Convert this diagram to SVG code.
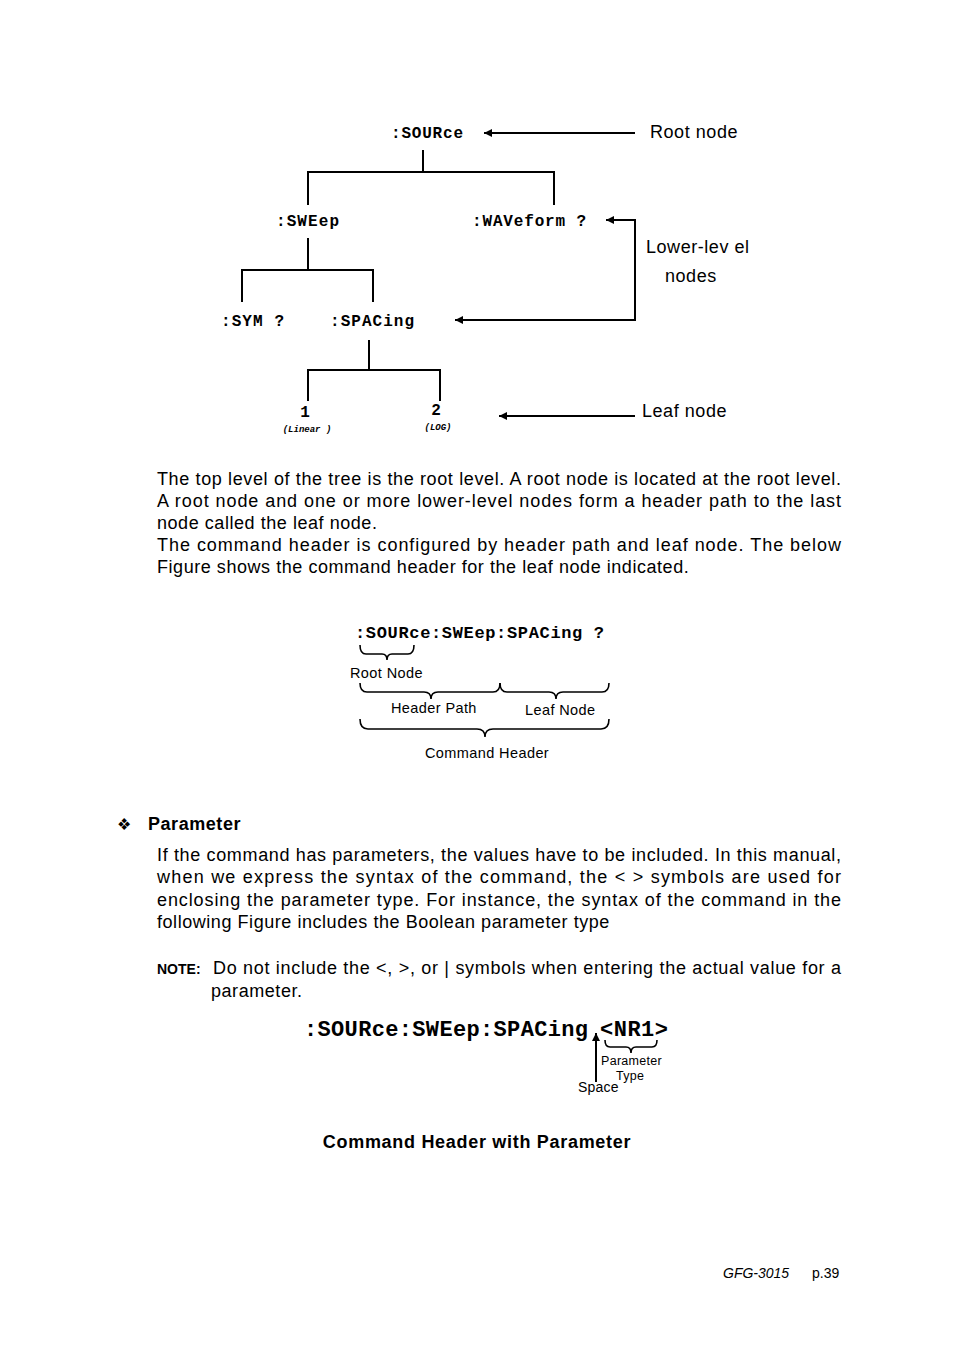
<svg xmlns="http://www.w3.org/2000/svg" width="954" height="1351" viewBox="0 0 954 1351">
<style>
.m{font-family:"Liberation Mono","Courier New",monospace;font-weight:bold;fill:#000}
.s{font-family:"Liberation Sans",Arial,sans-serif;fill:#000}
.p{letter-spacing:0.55px}
.q{letter-spacing:0.4px}
.ln{stroke:#000;stroke-width:2;fill:none}
.br{stroke:#000;stroke-width:1.6;fill:none}
</style>
<defs>
<marker id="ah" viewBox="0 0 10 10" refX="10" refY="5" markerWidth="9" markerHeight="8" markerUnits="userSpaceOnUse" orient="auto-start-reverse">
<path d="M0,0 L10,5 L0,10 Z" fill="#000"/>
</marker>
</defs>
<rect width="954" height="1351" fill="#fff"/>

<g id="connectors">
<path class="ln" d="M423,150 V172 M308,205 V172 H554 V205"/>
<path class="ln" d="M308,238 V270 M242,302 V270 H373 V302"/>
<path class="ln" d="M369,340 V370 M308,401 V370 H440 V401"/>
<line class="ln" x1="635" y1="133" x2="484" y2="133" marker-end="url(#ah)"/>
<polyline class="ln" points="606,220 635,220 635,320 455,320" marker-start="url(#ah)" marker-end="url(#ah)"/>
<line class="ln" x1="635" y1="416" x2="499" y2="416" marker-end="url(#ah)"/>
<line class="ln" x1="596" y1="1082" x2="596" y2="1033" marker-end="url(#ah)"/>
</g>

<g id="node-source"><text class="m" x="391" y="138" font-size="16" textLength="72">:SOURce</text></g>
<g id="label-root"><text class="s p" x="650" y="138" font-size="18">Root node</text></g>
<g id="node-sweep"><text class="m" x="276" y="226" font-size="16" textLength="63">:SWEep</text></g>
<g id="node-waveform"><text class="m" x="472" y="226" font-size="16" textLength="114">:WAVeform ?</text></g>
<g id="label-lower"><text class="s p" x="646" y="253" font-size="18">Lower-lev el</text><text class="s p" x="665" y="282" font-size="18">nodes</text></g>
<g id="node-sym"><text class="m" x="221" y="326" font-size="16" textLength="63">:SYM ?</text></g>
<g id="node-spacing"><text class="m" x="330" y="326" font-size="16" textLength="84">:SPACing</text></g>
<g id="node-1"><text class="m" x="305" y="417" font-size="16" text-anchor="middle">1</text><text class="m" x="307" y="432" font-size="9" font-style="italic" text-anchor="middle">(Linear )</text></g>
<g id="node-2"><text class="m" x="436" y="415" font-size="16" text-anchor="middle">2</text><text class="m" x="438" y="430" font-size="9" font-style="italic" text-anchor="middle">(LOG)</text></g>
<g id="label-leaf"><text class="s p" x="642" y="417" font-size="18">Leaf  node</text></g>

<g id="para1" class="s" font-size="18">
<text x="157" y="485" textLength="684" lengthAdjust="spacing">The top level of the tree is the root level. A root node is located at the root level.</text>
<text x="157" y="507" textLength="684" lengthAdjust="spacing">A root node and one or more lower-level nodes form a header path to the last</text>
<text class="p" x="157" y="529">node called the leaf node.</text>
<text x="157" y="551" textLength="684" lengthAdjust="spacing">The command header is configured by header path and leaf node. The below</text>
<text class="p" x="157" y="573">Figure shows the command header for the leaf node indicated.</text>
</g>

<g id="cmd-header">
<text class="m" x="355" y="638" font-size="17" textLength="249">:SOURce:SWEep:SPACing ?</text>
<path class="br" d="M360,645 Q360,654 366,654 L382,654 Q387,654 387,660 Q387,654 392,654 L408,654 Q414,654 414,645"/>
<text class="s q" x="350" y="678" font-size="14.5">Root Node</text>
<path class="br" d="M360,683 Q360,692 367,692 L424,692 Q431,692 431,699 Q431,692 438,692 L493,692 Q500,692 500,683"/>
<path class="br" d="M500,683 Q500,692 507,692 L549,692 Q556,692 556,699 Q556,692 563,692 L602,692 Q609,692 609,683"/>
<text class="s q" x="391" y="713" font-size="14.5">Header Path</text>
<text class="s q" x="525" y="715" font-size="14.5">Leaf Node</text>
<path class="br" d="M360,719 Q360,729 368,729 L477,729 Q485,729 485,737 Q485,729 493,729 L601,729 Q609,729 609,719"/>
<text class="s q" x="425" y="758" font-size="14.5">Command Header</text>
</g>

<g id="parameter-heading">
<text class="s" x="117" y="830" font-size="16">❖</text>
<text class="s p" x="148" y="830" font-size="18" font-weight="bold">Parameter</text>
</g>

<g id="para2" class="s" font-size="18">
<text x="157" y="861" textLength="684" lengthAdjust="spacing">If the command has parameters, the values have to be included. In this manual,</text>
<text x="157" y="883" textLength="684" lengthAdjust="spacing">when we express the syntax of the command, the &lt; &gt; symbols are used for</text>
<text x="157" y="906" textLength="684" lengthAdjust="spacing">enclosing the parameter type. For instance, the syntax of the command in the</text>
<text class="p" x="157" y="928">following Figure includes the Boolean parameter type</text>
</g>

<g id="note" class="s">
<text x="157" y="974" font-size="14" font-weight="bold">NOTE:</text>
<text x="213" y="974" font-size="18" textLength="628" lengthAdjust="spacing">Do not include the &lt;, &gt;, or | symbols when entering the actual value for a</text>
<text class="p" x="211" y="997" font-size="18">parameter.</text>
</g>

<g id="cmd-param">
<text class="m" x="304" y="1036" font-size="22" textLength="284">:SOURce:SWEep:SPACing</text>
<text class="m" x="600" y="1036" font-size="22" textLength="68">&lt;NR1&gt;</text>
<path class="br" d="M605,1040 Q605,1047 610,1047 L626,1047 Q631,1047 631,1053 Q631,1047 636,1047 L652,1047 Q657,1047 657,1040"/>
<text class="s" x="601" y="1065" font-size="12.5" letter-spacing="0.3">Parameter</text>
<text class="s" x="616" y="1080" font-size="12.5" letter-spacing="0.3">Type</text>
<text class="s" x="578" y="1092" font-size="14" letter-spacing="0.2">Space</text>
</g>

<g id="caption"><text class="s" x="477" y="1148" font-size="18" font-weight="bold" text-anchor="middle" letter-spacing="0.7">Command Header with Parameter</text></g>

<g id="footer" class="s" font-size="14">
<text x="723" y="1278" font-style="italic">GFG-3015</text>
<text x="812" y="1278">p.39</text>
</g>
</svg>
